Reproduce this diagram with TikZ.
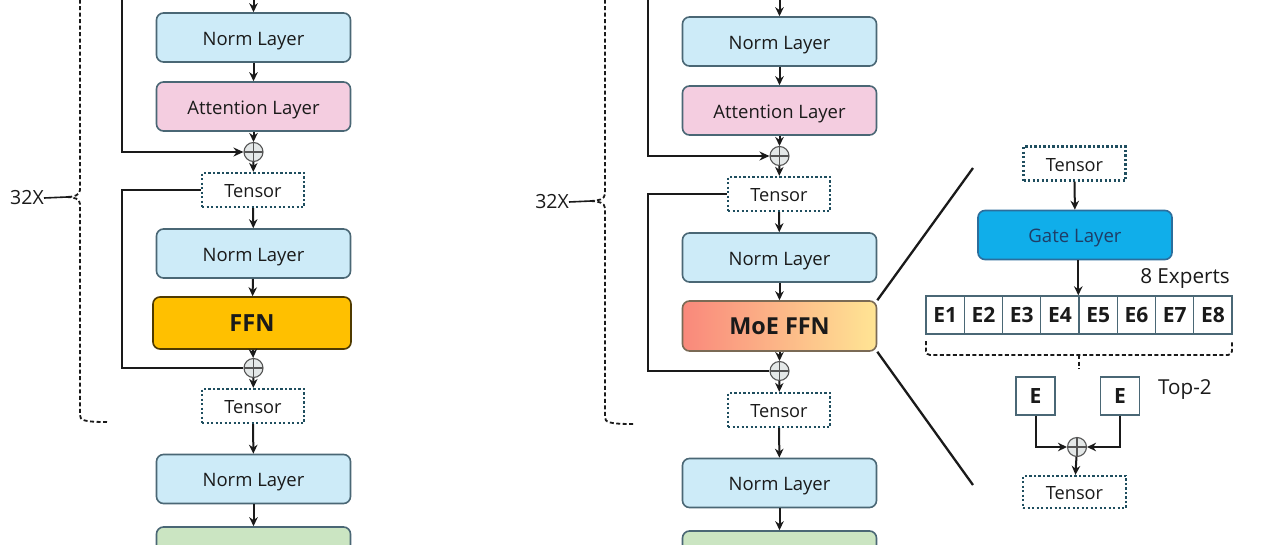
\documentclass[tikz,border=0pt]{standalone}
\usepackage{fontspec}
\setmainfont{Open Sans}
\usetikzlibrary{arrows.meta}
\newcommand\myfs[1]{\fontsize{#1}{#1}\selectfont}
\definecolor{normc}{HTML}{CDEBF8}
\definecolor{attnc}{HTML}{F4CDE0}
\definecolor{outc}{HTML}{CBE5C2}
\definecolor{bordc}{HTML}{4A6775}
\definecolor{ffnc}{HTML}{FFC000}
\definecolor{ffnb}{HTML}{4F3A00}
\definecolor{moel}{HTML}{F9887B}
\definecolor{moer}{HTML}{FFE594}
\definecolor{moeb}{HTML}{7A6A55}
\definecolor{tensc}{HTML}{1F4E5F}
\definecolor{gatec}{HTML}{10AEEA}
\definecolor{gateb}{HTML}{2C6E9C}
\definecolor{gatet}{HTML}{1F3D66}
\definecolor{plusf}{HTML}{E4E8E8}
\definecolor{plusb}{HTML}{555555}
\definecolor{txt}{HTML}{1A1A1A}
\tikzset{
  box/.style={draw=bordc, line width=1.6pt, rounded corners=7pt, minimum width=194pt,
    minimum height=49pt, inner sep=0pt, font=\myfs{18.5}, text=txt, text height=15pt, text depth=0pt},
  norm/.style={box, fill=normc},
  attn/.style={box, fill=attnc},
  outbox/.style={box, fill=outc},
  ffn/.style={box, fill=ffnc, draw=ffnb, minimum width=198pt, minimum height=52pt, font=\bfseries\myfs{23.6}, text height=17pt},
  moe/.style={box, left color=moel, right color=moer, draw=moeb, minimum height=50pt, font=\bfseries\myfs{23.4}, text height=17pt},
  tensor/.style={draw=tensc, line width=2.3pt, dash pattern=on 2.3pt off 2.2pt, minimum width=102pt,
    minimum height=34pt, inner sep=0pt, font=\myfs{18.2}, text=txt, fill=white, text height=15pt, text depth=0pt},
  plus/.style={circle, draw=plusb, fill=plusf, minimum size=19pt, inner sep=0pt, line width=1.1pt,
    path picture={\draw[plusb, line width=1.1pt] (path picture bounding box.north) -- (path picture bounding box.south)
      (path picture bounding box.west) -- (path picture bounding box.east);}},
  arr/.style={-{Stealth[length=9pt,width=8.5pt]}, line width=2pt, draw=txt},
  skip/.style={line width=2.9pt, draw=txt},
  skiparr/.style={skip, -{Stealth[length=10pt,width=9pt]}},
  brace/.style={dash pattern=on 4pt off 2.5pt, line width=1.8pt, draw=txt},
  lbl/.style={font=\myfs{19.5}, text=txt, inner sep=0pt},
  diag/.style={line width=2.3pt, draw=txt},
  gate/.style={box, fill=gatec, draw=gateb, text=gatet, font=\myfs{18.6}},
  expert/.style={draw=bordc, line width=1.4pt, fill=white, minimum width=38.25pt, minimum height=38pt,
    inner sep=0pt, font=\bfseries\myfs{21}, text=txt, text height=15pt, text depth=0pt},
}
\begin{document}
\begin{tikzpicture}[x=1pt,y=-1pt]
\useasboundingbox (0,0) rectangle (1280,544);
\clip (0,0) rectangle (1280,544);
\fill[white] (0,0) rectangle (1280,544);

% ---------- left column ----------
\node[norm] (Ln1) at (253.5,37.5) {Norm Layer};
\node[attn] (La) at (253.5,106.5) {Attention Layer};
\node[plus] (Lp1) at (253.5,152) {};
\node[tensor] (Lt1) at (253,190) {Tensor};
\node[norm] (Ln2) at (253.5,253.5) {Norm Layer};
\node[ffn] (Lf) at (252,323) {FFN};
\node[plus] (Lp2) at (253.5,368) {};
\node[tensor] (Lt2) at (253,406) {Tensor};
\node[norm] (Ln3) at (253.5,479) {Norm Layer};
\node[outbox] (Lo) at (253.5,551.5) {};
\coordinate (Ltop) at (253.5,-20);
\coordinate (Lsk) at (122,-20);
\coordinate (Lc) at (122,368);
\draw[arr] (Ltop) -- (Ln1);
\draw[arr] (Ln1) -- (La);
\draw[arr] (La) -- (Lp1);
\draw[arr] (Lp1) -- (Lt1);
\draw[arr] (Lt1) -- (Ln2);
\draw[arr] (Ln2) -- (Lf);
\draw[arr] (Lf) -- (Lp2);
\draw[arr] (Lp2) -- (Lt2);
\draw[arr] (Lt2) -- (Ln3);
\draw[arr] (Ln3) -- (Lo);
\draw[skiparr] (Lsk) |- (Lp1);
\draw[skip] (Lt1.west) -| (Lc) -- (Lp2.west);
% brace
\coordinate (Ltip) at (67,197);
\draw[brace] (80,-20) -- (80,190) .. controls (80,195) and (74,197) .. (Ltip);
\draw[brace] (Ltip) .. controls (74,197) and (80,199) .. (80,204) -- (80,415) .. controls (80,420) and (83,422) .. (107,422);
\node[lbl, anchor=east] (L32) at (44,198) {32X};
\draw[line width=1.6pt, draw=txt] (L32.east) -- (Ltip);

% ---------- right column ----------
\node[norm] (Rn1) at (779.5,41.5) {Norm Layer};
\node[attn] (Ra) at (779.5,110.5) {Attention Layer};
\node[plus] (Rp1) at (779.5,156) {};
\node[tensor] (Rt1) at (779,194) {Tensor};
\node[norm] (Rn2) at (779.5,257.5) {Norm Layer};
\node[moe] (Rm) at (779.5,326) {MoE FFN};
\node[plus] (Rp2) at (779.5,371) {};
\node[tensor] (Rt2) at (779,410) {Tensor};
\node[norm] (Rn3) at (779.5,483) {Norm Layer};
\node[outbox] (Ro) at (779.5,555.5) {};
\coordinate (Rtop) at (779.5,-20);
\coordinate (Rsk) at (648,-20);
\coordinate (Rc) at (648,371);
\draw[arr] (Rtop) -- (Rn1);
\draw[arr] (Rn1) -- (Ra);
\draw[arr] (Ra) -- (Rp1);
\draw[arr] (Rp1) -- (Rt1);
\draw[arr] (Rt1) -- (Rn2);
\draw[arr] (Rn2) -- (Rm);
\draw[arr] (Rm) -- (Rp2);
\draw[arr] (Rp2) -- (Rt2);
\draw[arr] (Rt2) -- (Rn3);
\draw[arr] (Rn3) -- (Ro);
\draw[skiparr] (Rsk) |- (Rp1);
\draw[skip] (Rt1.west) -| (Rc) -- (Rp2.west);
\coordinate (Rtip) at (591,201);
\draw[brace] (605,-20) -- (605,194) .. controls (605,199) and (598,201) .. (Rtip);
\draw[brace] (Rtip) .. controls (598,201) and (605,203) .. (605,208) -- (605,417) .. controls (605,422) and (608,424) .. (633,424);
\node[lbl, anchor=east] (R32) at (569,202) {32X};
\draw[line width=1.6pt, draw=txt] (R32.east) -- (Rtip);

% ---------- MoE detail ----------
\coordinate (Dd1) at (973,168);
\coordinate (Dd2) at (973,485);
\draw[diag] (Rm.north east) -- (Dd1);
\draw[diag] (Rm.south east) -- (Dd2);
\node[tensor] (Dt1) at (1074.5,163.5) {Tensor};
\node[gate] (Dg) at (1075,235) {Gate Layer};
\foreach \i in {1,...,8} {
  \node[expert] (X\i) at ({926+19.125+(\i-1)*38.25},315) {E\i};
}
\node[lbl, font=\myfs{20.7}, anchor=center] (Dlab) at (1185,278) {8 Experts};
\draw[brace, rounded corners=4pt] (926,341) -- (926,355) -- (1232,355) -- (1232,341);
\draw[brace] (1079,355) -- (1079,369);
\node[expert, minimum width=39pt] (Ee1) at (1035.5,396) {E};
\node[expert, minimum width=39pt] (Ee2) at (1120,396) {E};
\node[lbl, font=\myfs{20.6}, anchor=west] (Dtop2) at (1158,390) {Top-2};
\node[plus] (Dp) at (1077,447) {};
\node[tensor, minimum height=32pt, minimum width=103pt] (Dt2) at (1074.5,492) {Tensor};
\draw[arr] (Dt1) -- (Dg);
\draw[arr] (Dg.south -| X5.north west) -- (X5.north west);
\draw[arr] (Ee1.south) |- (Dp.west);
\draw[arr] (Ee2.south) |- (Dp.east);
\draw[arr] (Dp) -- (Dt2);
\end{tikzpicture}
\end{document}
